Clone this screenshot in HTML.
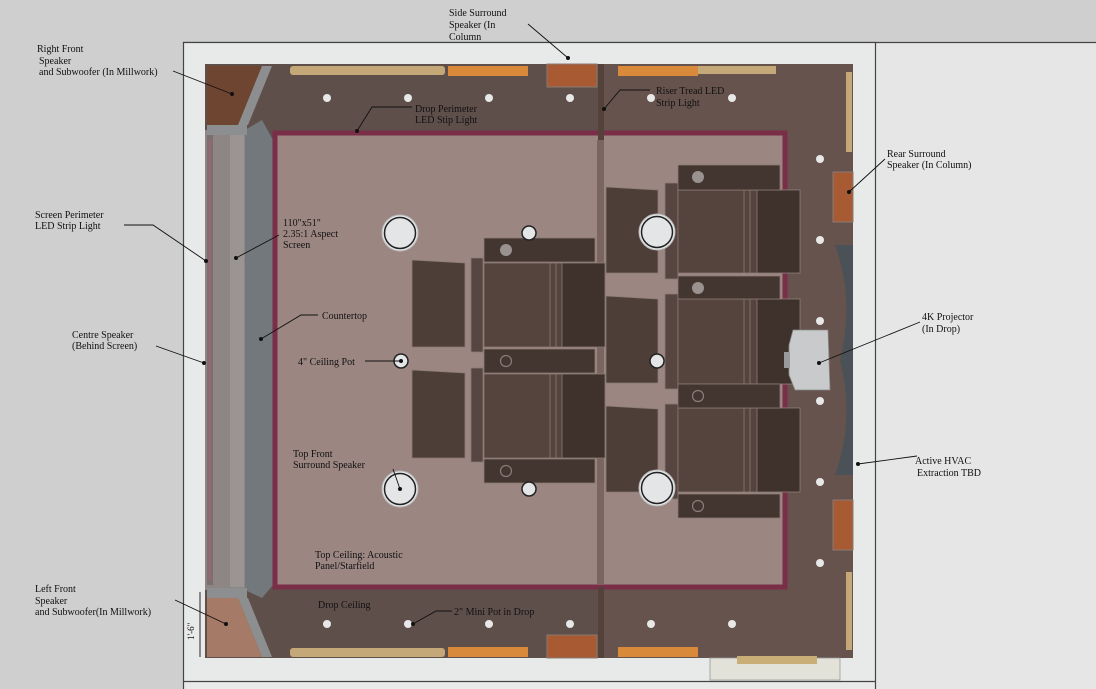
<!DOCTYPE html>
<html><head><meta charset="utf-8"><style>
html,body{margin:0;padding:0;background:#cfcfcf;}
svg{display:block}
text{font-family:"Liberation Serif",serif;font-size:10px;fill:#111;}
</style></head><body>
<svg width="1096" height="689" viewBox="0 0 1096 689" xmlns="http://www.w3.org/2000/svg">
<rect x="0" y="0" width="1096" height="689" fill="#cfcfcf"/>
<rect x="875" y="42" width="221" height="647" fill="#e6e6e6"/>
<line x1="183" y1="42.5" x2="1096" y2="42.5" stroke="#444" stroke-width="1.2"/>
<rect x="183.5" y="42.5" width="692" height="660" fill="#e8e9e9" stroke="#444" stroke-width="1.2"/>
<line x1="183" y1="681.5" x2="876" y2="681.5" stroke="#444" stroke-width="1.2"/>
<rect x="205" y="64" width="648" height="594" fill="#5f4f4b"/>
<rect x="600" y="64" width="253" height="594" fill="#66534d"/>
<rect x="710" y="658" width="130" height="22" fill="#e3e2d8" stroke="#999" stroke-width="0.8"/>
<rect x="737" y="656" width="80" height="8" fill="#c9ae78"/>
<polygon points="205,130 245,130 245,590 205,590" fill="#8d8684"/>
<polygon points="245,130 262,120 273,140 273,585 262,598 245,590" fill="#73787c"/>
<rect x="207" y="135" width="6" height="450" fill="#7b6f70"/>
<line x1="210" y1="140" x2="210" y2="580" stroke="#b35a7a" stroke-width="1.2"/>
<rect x="230" y="135" width="14" height="452" fill="#9a9492"/>
<polygon points="207,66 262,66 238,125 207,125" fill="#6e4531"/>
<polygon points="262,66 272,66 248,125 238,125" fill="#8c8e90"/>
<polygon points="207,598 238,598 262,657 207,657" fill="#a57a66"/>
<polygon points="238,598 248,598 272,657 262,657" fill="#8c8e90"/>
<rect x="207" y="125" width="40" height="10" fill="#8c8e90"/>
<rect x="207" y="588" width="40" height="10" fill="#8c8e90"/>
<rect x="290" y="66" width="155" height="9" rx="3" fill="#c4a878"/>
<rect x="448" y="66" width="80" height="10" fill="#d88a3a"/>
<rect x="547" y="64" width="50" height="23" fill="#a85a32" stroke="#8a7a72"/>
<rect x="618" y="66" width="80" height="10" fill="#d88a3a"/>
<rect x="698" y="66" width="78" height="8" fill="#c4a878"/>
<rect x="290" y="648" width="155" height="9" rx="3" fill="#c4a878"/>
<rect x="448" y="647" width="80" height="10" fill="#d88a3a"/>
<rect x="547" y="635" width="50" height="23" fill="#a85a32" stroke="#8a7a72"/>
<rect x="618" y="647" width="80" height="10" fill="#d88a3a"/>
<rect x="846" y="72" width="6" height="80" fill="#c4a878"/>
<rect x="846" y="572" width="6" height="78" fill="#c4a878"/>
<rect x="833" y="172" width="20" height="50" fill="#a85a32" stroke="#8a7a72"/>
<rect x="833" y="500" width="20" height="50" fill="#a85a32" stroke="#8a7a72"/>
<path d="M835,245 L853,245 L853,475 L835,475 Q855,420 840,360 Q855,300 835,245Z" fill="#4a5257"/>
<rect x="275" y="133" width="510" height="454" fill="#9b8682" stroke="#7a2e48" stroke-width="5"/>
<rect x="597" y="140" width="7" height="444" fill="#7a6560"/>
<rect x="598" y="64" width="6" height="76" fill="#54413a"/>
<rect x="598" y="587" width="6" height="71" fill="#54413a"/>
<g fill="#e8e8e8">
<circle cx="327" cy="98" r="4"/><circle cx="408" cy="98" r="4"/><circle cx="489" cy="98" r="4"/><circle cx="570" cy="98" r="4"/>
<circle cx="651" cy="98" r="4"/><circle cx="732" cy="98" r="4"/>
<circle cx="327" cy="624" r="4"/><circle cx="408" cy="624" r="4"/><circle cx="489" cy="624" r="4"/><circle cx="570" cy="624" r="4"/>
<circle cx="651" cy="624" r="4"/><circle cx="732" cy="624" r="4"/>
<circle cx="820" cy="159" r="4"/><circle cx="820" cy="240" r="4"/><circle cx="820" cy="321" r="4"/><circle cx="820" cy="401" r="4"/><circle cx="820" cy="482" r="4"/><circle cx="820" cy="563" r="4"/>
</g>
<g stroke="#8a7a74" stroke-width="0.8">
<polygon points="412,260 465,263 465,347 412,347" fill="#4d3e38"/>
<polygon points="412,370 465,373 465,458 412,458" fill="#4d3e38"/>
<rect x="471" y="258" width="12" height="94" fill="#564540"/>
<rect x="471" y="368" width="12" height="94" fill="#564540"/>
<rect x="484" y="263" width="121" height="84" fill="#54443d"/>
<rect x="562" y="263" width="43" height="84" fill="#3f312c"/>
<rect x="484" y="374" width="121" height="84" fill="#54443d"/>
<rect x="562" y="374" width="43" height="84" fill="#3f312c"/>
<rect x="484" y="238" width="111" height="24" fill="#433530"/>
<rect x="484" y="349" width="111" height="24" fill="#433530"/>
<rect x="484" y="459" width="111" height="24" fill="#433530"/>
<line x1="550" y1="263" x2="550" y2="347"/><line x1="556" y1="263" x2="556" y2="347"/>
<line x1="550" y1="374" x2="550" y2="458"/><line x1="556" y1="374" x2="556" y2="458"/>
</g>
<circle cx="506" cy="250" r="6" fill="#9a928f"/>
<circle cx="506" cy="361" r="5.5" fill="none" stroke="#8a7e7a" stroke-width="1.2"/>
<circle cx="506" cy="471" r="5.5" fill="none" stroke="#8a7e7a" stroke-width="1.2"/>
<g stroke="#8a7a74" stroke-width="0.8">
<polygon points="606,187 658,190 658,273 606,273" fill="#4d3e38"/>
<polygon points="606,296 658,299 658,383 606,383" fill="#4d3e38"/>
<polygon points="606,406 658,409 658,492 606,492" fill="#4d3e38"/>
<rect x="665" y="183" width="13" height="96" fill="#564540"/>
<rect x="665" y="294" width="13" height="95" fill="#564540"/>
<rect x="665" y="404" width="13" height="95" fill="#564540"/>
<rect x="678" y="190" width="122" height="83" fill="#54443d"/>
<rect x="757" y="190" width="43" height="83" fill="#3f312c"/>
<rect x="678" y="299" width="122" height="85" fill="#54443d"/>
<rect x="757" y="299" width="43" height="85" fill="#3f312c"/>
<rect x="678" y="408" width="122" height="84" fill="#54443d"/>
<rect x="757" y="408" width="43" height="84" fill="#3f312c"/>
<rect x="678" y="165" width="102" height="25" fill="#433530"/>
<rect x="678" y="276" width="102" height="23" fill="#433530"/>
<rect x="678" y="384" width="102" height="24" fill="#433530"/>
<rect x="678" y="494" width="102" height="24" fill="#433530"/>
<line x1="744" y1="190" x2="744" y2="273"/><line x1="750" y1="190" x2="750" y2="273"/>
<line x1="744" y1="299" x2="744" y2="384"/><line x1="750" y1="299" x2="750" y2="384"/>
<line x1="744" y1="408" x2="744" y2="492"/><line x1="750" y1="408" x2="750" y2="492"/>
</g>
<circle cx="698" cy="177" r="6" fill="#9a928f"/>
<circle cx="698" cy="288" r="6" fill="#9a928f"/>
<circle cx="698" cy="396" r="5.5" fill="none" stroke="#8a7e7a" stroke-width="1.2"/>
<circle cx="698" cy="506" r="5.5" fill="none" stroke="#8a7e7a" stroke-width="1.2"/>
<g stroke="#bbb" stroke-width="1" fill="#e4e5e7">
<circle cx="400" cy="233" r="18"/><circle cx="657" cy="232" r="18"/>
<circle cx="400" cy="489" r="18"/><circle cx="657" cy="488" r="18"/>
</g>
<g stroke="#222" stroke-width="1.5" fill="#e4e5e7">
<circle cx="400" cy="233" r="15.5"/><circle cx="657" cy="232" r="15.5"/>
<circle cx="400" cy="489" r="15.5"/><circle cx="657" cy="488" r="15.5"/>
<circle cx="529" cy="233" r="7"/><circle cx="529" cy="489" r="7"/>
<circle cx="657" cy="361" r="7"/><circle cx="401" cy="361" r="7"/>
</g>
<polygon points="793,330 828,330 830,390 795,390 789,375 789,345" fill="#c9cacc" stroke="#888" stroke-width="0.8"/>
<rect x="784" y="352" width="6" height="16" fill="#9a9a9a"/>
<g stroke="#111" stroke-width="0.9" fill="none">
<path d="M173,71 L232,94"/><path d="M528,24 L568,58"/>
<path d="M412,107 L372,107 L357,131"/>
<path d="M650,90 L620,90 L604,109"/>
<path d="M885,159 L849,192"/>
<path d="M124,225 L153,225 L206,261"/>
<path d="M279,235 L236,258"/>
<path d="M318,315 L301,315 L261,339"/>
<path d="M156,346 L204,363"/>
<path d="M365,361 L401,361"/>
<path d="M920,322 L819,363"/>
<path d="M917,456 L858,464"/>
<path d="M393,469 L400,489"/>
<path d="M452,611 L436,611 L413,624"/>
<path d="M175,600 L226,624"/>
<path d="M200,592 L200,657"/>
</g>
<g fill="#111">
<circle cx="232" cy="94" r="2"/><circle cx="568" cy="58" r="2"/><circle cx="357" cy="131" r="2"/><circle cx="604" cy="109" r="2"/>
<circle cx="849" cy="192" r="2"/><circle cx="206" cy="261" r="2"/><circle cx="236" cy="258" r="2"/><circle cx="261" cy="339" r="2"/>
<circle cx="204" cy="363" r="2"/><circle cx="819" cy="363" r="2"/><circle cx="858" cy="464" r="2"/><circle cx="400" cy="489" r="2"/>
<circle cx="413" cy="624" r="2"/><circle cx="226" cy="624" r="2"/><circle cx="401" cy="361" r="2"/>
</g>
<text x="449" y="16">Side Surround</text><text x="449" y="28">Speaker (In</text><text x="449" y="40">Column</text>
<text x="37" y="52">Right Front</text><text x="39" y="64">Speaker</text><text x="39" y="75">and Subwoofer (In Millwork)</text>
<text x="415" y="112">Drop Perimeter</text><text x="415" y="123">LED  Stip Light</text>
<text x="656" y="94">Riser Tread LED</text><text x="656" y="106">Strip Light</text>
<text x="887" y="157">Rear Surround</text><text x="887" y="168">Speaker (In Column)</text>
<text x="35" y="218">Screen Perimeter</text><text x="35" y="229">LED Strip Light</text>
<text x="283" y="226">110"x51"</text><text x="283" y="237">2.35:1 Aspect</text><text x="283" y="248">Screen</text>
<text x="322" y="319">Countertop</text>
<text x="72" y="338">Centre Speaker</text><text x="72" y="349">(Behind Screen)</text>
<text x="298" y="365">4" Ceiling Pot</text>
<text x="922" y="320">4K Projector</text><text x="922" y="332">(In Drop)</text>
<text x="915" y="464">Active HVAC</text><text x="917" y="476">Extraction TBD</text>
<text x="293" y="457">Top Front</text><text x="293" y="468">Surround Speaker</text>
<text x="315" y="558">Top Ceiling: Acoustic</text><text x="315" y="569">Panel/Starfield</text>
<text x="35" y="592">Left Front</text><text x="35" y="604">Speaker</text><text x="35" y="615">and Subwoofer(In Millwork)</text>
<text x="318" y="608">Drop Ceiling</text>
<text x="454" y="615">2" Mini Pot in Drop</text>
<text x="0" y="0" transform="translate(194,640) rotate(-90)" style="font-size:9px">1'-6"</text>
</svg>
</body></html>
